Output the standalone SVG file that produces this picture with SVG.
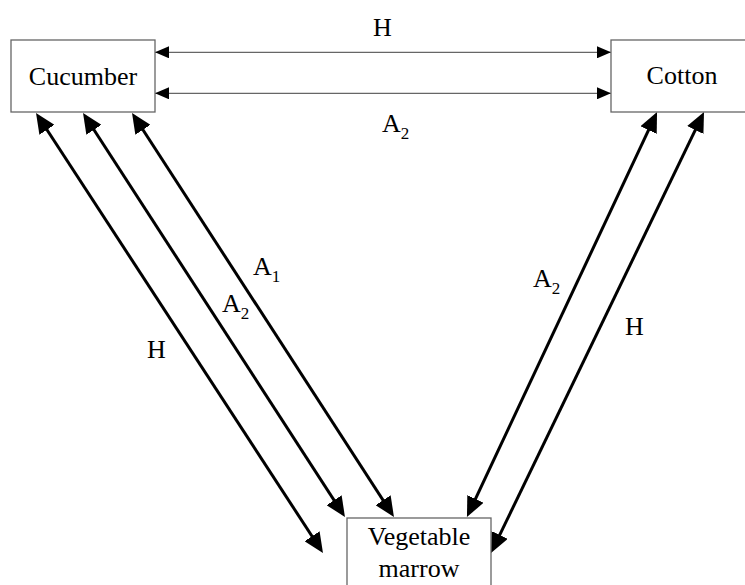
<svg xmlns="http://www.w3.org/2000/svg" width="745" height="585" viewBox="0 0 745 585">
<defs>
<style>
.box{fill:#fff;stroke:#666;stroke-width:1.3}
.t{font-family:"Liberation Serif","Times New Roman",serif;font-size:26px;fill:#000;text-anchor:middle}
.lab{font-family:"Liberation Serif","Times New Roman",serif;font-size:26px;fill:#000}
.sub{font-size:17px}
.thin{stroke:#666;stroke-width:1.3;fill:none;marker-start:url(#hs);marker-end:url(#hs)}
.thick{stroke:#000;stroke-width:3;fill:none;marker-start:url(#hb);marker-end:url(#hb)}
</style>
<marker id="hs" markerUnits="userSpaceOnUse" viewBox="0 -6 14 12" markerWidth="14" markerHeight="12" refX="14" refY="0" orient="auto-start-reverse">
<path d="M0,-6 L14,0 L0,6 z" fill="#000"/>
</marker>
<marker id="hb" markerUnits="userSpaceOnUse" viewBox="0 -9 20 18" markerWidth="20" markerHeight="18" refX="14" refY="0" orient="auto-start-reverse">
<path d="M0,-9 L20,0 L0,9 z" fill="#000"/>
</marker>
</defs>
<g id="connectors">
<line class="thin" x1="155" y1="52.3" x2="611" y2="52.3"/>
<line class="thin" x1="155" y1="93.3" x2="611" y2="93.3"/>
<line class="thick" x1="39.3" y1="118" x2="319.7" y2="548"/>
<line class="thick" x1="86.3" y1="118" x2="341.7" y2="512"/>
<line class="thick" x1="135.3" y1="118" x2="390.7" y2="512"/>
<line class="thick" x1="654.5" y1="117.4" x2="469.5" y2="511.6"/>
<line class="thick" x1="701.4" y1="117.4" x2="493.6" y2="547.6"/>
<text class="lab" x="373" y="36">H</text>
<text class="lab" x="382" y="132">A<tspan class="sub" dy="7">2</tspan></text>
<text class="lab" x="253" y="275">A<tspan class="sub" dy="7">1</tspan></text>
<text class="lab" x="222" y="312">A<tspan class="sub" dy="7">2</tspan></text>
<text class="lab" x="147" y="358">H</text>
<text class="lab" x="533" y="287">A<tspan class="sub" dy="7">2</tspan></text>
<text class="lab" x="625" y="335">H</text>
</g>
<g id="cucumber">
<rect class="box" x="11" y="40" width="144" height="72"/>
<text class="t" x="83" y="85">Cucumber</text>
</g>
<g id="cotton">
<rect class="box" x="611" y="40" width="144" height="72"/>
<text class="t" x="682" y="84">Cotton</text>
</g>
<g id="vegetable-marrow">
<rect class="box" x="347" y="518" width="144" height="72"/>
<text class="t" x="419" y="545">Vegetable</text>
<text class="t" x="419" y="577">marrow</text>
</g>
</svg>
